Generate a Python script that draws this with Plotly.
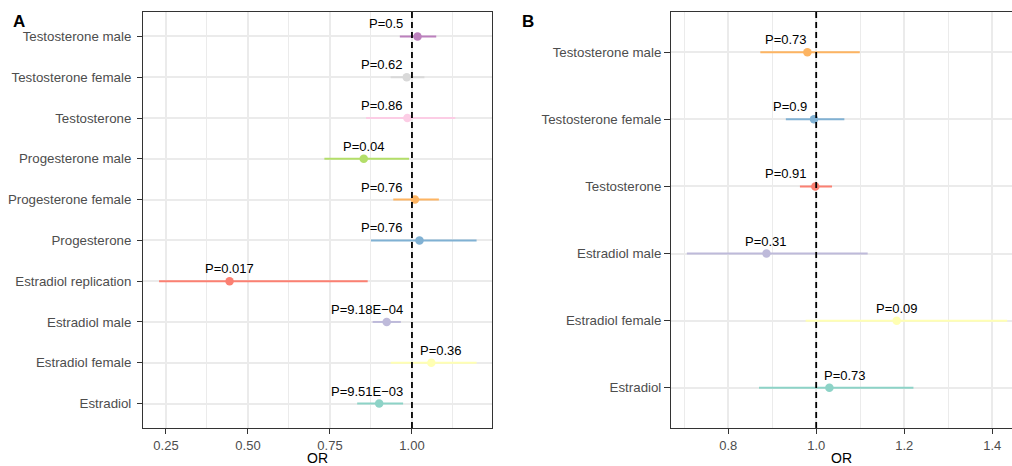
import plotly.graph_objects as go

# ---------------- data ----------------
# Panel A (bottom -> top order)
a_labels = ["Estradiol", "Estradiol female", "Estradiol male", "Estradiol replication",
            "Progesterone", "Progesterone female", "Progesterone male",
            "Testosterone", "Testosterone female", "Testosterone male"]
a_or = [0.900, 1.059, 0.923, 0.444, 1.023, 1.009, 0.853, 0.986, 0.984, 1.017]
a_lo = [0.833, 0.935, 0.880, 0.229, 0.875, 0.943, 0.733, 0.860, 0.935, 0.963]
a_hi = [0.973, 1.197, 0.966, 0.865, 1.197, 1.082, 0.991, 1.132, 1.038, 1.074]
a_p = ["P=9.51E\u221203", "P=0.36", "P=9.18E\u221204", "P=0.017", "P=0.76",
       "P=0.76", "P=0.04", "P=0.86", "P=0.62", "P=0.5"]
a_colors = ["#8DD3C7", "#FFFFB3", "#BEBADA", "#FB8072", "#80B1D3",
            "#FDB462", "#B3DE69", "#FCCDE5", "#D9D9D9", "#BC80BD"]
a_xticks = [0.25, 0.50, 0.75, 1.00]
a_xticktext = ["0.25", "0.50", "0.75", "1.00"]

# Panel B (bottom -> top order)
b_labels = ["Estradiol", "Estradiol female", "Estradiol male",
            "Testosterone", "Testosterone female", "Testosterone male"]
b_or = [1.030, 1.183, 0.887, 0.998, 0.995, 0.980]
b_lo = [0.870, 0.976, 0.706, 0.963, 0.931, 0.873]
b_hi = [1.221, 1.434, 1.117, 1.036, 1.064, 1.099]
b_p = ["P=0.73", "P=0.09", "P=0.31", "P=0.91", "P=0.9", "P=0.73"]
b_colors = ["#8DD3C7", "#FFFFB3", "#BEBADA", "#FB8072", "#80B1D3", "#FDB462"]
b_xticks = [0.8, 1.0, 1.2, 1.4]
b_xticktext = ["0.8", "1.0", "1.2", "1.4"]

# ---------------- layout constants ----------------
W, H = 1012, 466
FONT = "Liberation Sans, Arial, Helvetica, sans-serif"
GRID = "#EBEBEB"
BORDER = "#333333"
TICKTXT = "#4D4D4D"

a_dom = [143 / W, 492 / W]
b_dom = [671 / W, 1.0]
a_range = [0.18, 1.244]
b_range = [0.670, 1.445]
m_t, m_b = 12, 38

fig = go.Figure()


def add_panel(labels, ors, los, his, ps, colors, xaxis, yaxis, dom, xr):
    px_per_unit = (dom[1] - dom[0]) * W / (xr[1] - xr[0])
    for lab, o, lo, hi, p, c in zip(labels, ors, los, his, ps, colors):
        fig.add_trace(go.Scatter(
            x=[o], y=[lab], mode="markers",
            marker=dict(color=c, size=8.5, line=dict(width=0)),
            error_x=dict(type="data", symmetric=False, array=[hi - o],
                         arrayminus=[o - lo], width=0, thickness=2, color=c),
            xaxis=xaxis, yaxis=yaxis, showlegend=False, hoverinfo="skip"))
        # label placement: keep the label off the OR = 1 reference line
        half_w = 3.6 * len(p)
        dpx = (o - 1.0) * px_per_unit
        if dpx > 10:
            if dpx - half_w < 5:
                anchor, xs, anchor_x = "left", 6, 1.0
            else:
                anchor, xs, anchor_x = "center", 0, o
        else:
            if dpx + half_w > -7:
                anchor, xs, anchor_x = "right", -7, 1.0
            else:
                anchor, xs, anchor_x = "center", 0, o
        fig.add_annotation(
            x=anchor_x, y=lab, xref=xaxis, yref=yaxis, text=p, showarrow=False,
            xanchor=anchor, yanchor="middle", xshift=xs, yshift=12.5,
            font=dict(family=FONT, size=13, color="black"))
    fig.add_shape(type="line", x0=1, x1=1, y0=0, y1=1, xref=xaxis,
                  yref=yaxis + " domain", layer="above",
                  line=dict(color="black", width=1.8, dash="6px,4px"))


add_panel(a_labels, a_or, a_lo, a_hi, a_p, a_colors, "x", "y", a_dom, a_range)
add_panel(b_labels, b_or, b_lo, b_hi, b_p, b_colors, "x2", "y2", b_dom, b_range)

common_x = dict(showgrid=True, gridcolor=GRID, gridwidth=1.6, zeroline=False,
                showline=True, linecolor=BORDER, linewidth=1, mirror=True,
                ticks="outside", ticklen=5, tickcolor=BORDER, tickwidth=1,
                tickfont=dict(family=FONT, size=13, color=TICKTXT),
                title=dict(text="OR", font=dict(family=FONT, size=14, color="black"),
                           standoff=3))

fig.update_layout(
    width=W, height=H,
    margin=dict(l=0, r=0, t=m_t, b=m_b, autoexpand=False),
    paper_bgcolor="white", plot_bgcolor="white",
    xaxis=dict(domain=a_dom, range=a_range, tickvals=a_xticks, ticktext=a_xticktext,
               anchor="y",
               minor=dict(showgrid=True, gridcolor=GRID, gridwidth=1.2,
                          tickvals=[0.375, 0.625, 0.875, 1.125], ticklen=0),
               **common_x),
    yaxis=dict(domain=[0, 1], type="category", categoryorder="array",
               categoryarray=a_labels, range=[-0.6, len(a_labels) - 0.4],
               anchor="x", showgrid=True, gridcolor=GRID, gridwidth=1.6,
               showline=True, linecolor=BORDER, linewidth=1, mirror=True,
               ticks="outside", ticklen=5, tickcolor=BORDER,
               ticklabelstandoff=3,
               tickfont=dict(family=FONT, size=13.3, color=TICKTXT)),
    xaxis2=dict(domain=b_dom, range=b_range, tickvals=b_xticks, ticktext=b_xticktext,
                anchor="y2",
                minor=dict(showgrid=True, gridcolor=GRID, gridwidth=1.2,
                           tickvals=[0.7, 0.9, 1.1, 1.3], ticklen=0),
                **common_x),
    yaxis2=dict(domain=[0, 1], type="category", categoryorder="array",
                categoryarray=b_labels, range=[-0.6, len(b_labels) - 0.4],
                anchor="x2", showgrid=True, gridcolor=GRID, gridwidth=1.6,
                showline=True, linecolor=BORDER, linewidth=1, mirror=False,
                ticks="outside", ticklen=6, tickcolor=BORDER,
                ticklabelstandoff=0,
                tickfont=dict(family=FONT, size=13.3, color=TICKTXT)),
)

fig.add_annotation(x=11 / W, y=1 - (21 - m_t) / (H - m_t - m_b), xref="paper", yref="paper",
                   text="<b>A</b>", showarrow=False, xanchor="left", yanchor="middle",
                   font=dict(family=FONT, size=17, color="black"))
fig.add_annotation(x=520 / W, y=1 - (21 - m_t) / (H - m_t - m_b), xref="paper", yref="paper",
                   text="<b>B</b>", showarrow=False, xanchor="left", yanchor="middle",
                   font=dict(family=FONT, size=17, color="black"))

fig.write_html("out.html", config={"displayModeBar": False},
               post_script="document.body.style.margin='0';document.body.style.overflow='hidden';")
